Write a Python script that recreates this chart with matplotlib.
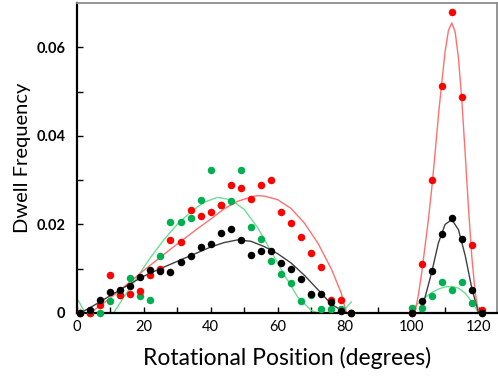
import numpy as np
import matplotlib
matplotlib.use("Agg")
import matplotlib.pyplot as plt

plt.rcParams['font.family'] = ['Lato', 'DejaVu Sans']

# ---- measured dwell frequencies (dots) ----
x_left = [1, 4, 7, 10, 13, 16, 19, 22, 25, 28, 31, 34, 37, 40, 43, 46, 49,
          52, 55, 58, 61, 64, 67, 70, 73, 76, 79, 82]
black_left = [0.0, 0.0006, 0.0030, 0.0048, 0.0052, 0.0062, 0.0081, 0.0096,
              0.0094, 0.0093, 0.0115, 0.0128, 0.0150, 0.0155, 0.0180, 0.0190,
              0.0164, 0.0132, 0.0141, 0.0141, 0.0114, 0.0100, 0.0077, 0.0042,
              0.0042, 0.0024, 0.0004, 0.0]
red_left = [0.0, 0.0, 0.0017, 0.0085, 0.0041, 0.0042, 0.0049, 0.0085,
            0.0100, 0.0165, 0.0160, 0.0233, 0.0220, 0.0227, 0.0245, 0.0289,
            0.0283, 0.0258, 0.0289, 0.0301, 0.0227, 0.0203, 0.0171, 0.0135,
            0.0103, 0.0030, 0.0030, 0.0]
green_left = [0.0, 0.0, 0.0, 0.0028, 0.0040, 0.0079, 0.0039, 0.0030,
              0.0128, 0.0205, 0.0205, 0.0215, 0.0255, 0.0323, 0.0245, 0.0254,
              0.0323, 0.0195, 0.0166, 0.0118, 0.0088, 0.0067, 0.0028, 0.0040,
              0.0010, 0.0010, 0.0010, 0.0]

x_right = [100, 103, 106, 109, 112, 115, 118, 121]
red_right = [0.0, 0.0111, 0.0301, 0.0513, 0.0679, 0.0487, 0.0154, 0.0007]
black_right = [0.0, 0.0028, 0.0094, 0.0179, 0.0215, 0.0167, 0.0051, 0.0]
green_right = [0.0012, 0.0012, 0.0039, 0.0071, 0.0051, 0.0071, 0.0023, 0.0]

# ---- fitted curves ----
red_fit_left_x = [4, 8, 12, 16, 20, 24, 28, 32, 36, 40, 44, 48, 52, 54, 56,
                  60, 64, 68, 72, 76, 79, 80.5]
red_fit_left_y = [0.0, 0.0022, 0.0046, 0.0071, 0.0096, 0.0120, 0.0144,
                  0.0167, 0.0190, 0.0212, 0.0235, 0.0252, 0.0262, 0.0265,
                  0.0264, 0.0256, 0.0236, 0.0203, 0.0158, 0.0100, 0.0045, 0.0]
green_fit_left_x = [0.5, 2.5, 5, 8, 11, 14, 18, 22, 26, 30, 34, 38, 42, 46,
                    50, 54, 58, 62, 66, 70, 72, 76, 79, 82]
green_fit_left_y = [0.0028, 0.0, -0.003, -0.003, 0.0, 0.0035, 0.0080, 0.0125,
                    0.0165, 0.0200, 0.0228, 0.0250, 0.0261, 0.0256, 0.0234,
                    0.0193, 0.0140, 0.0086, 0.0036, 0.0006, 0.0, -0.002,
                    0.0, 0.0025]
black_fit_left_x = [1, 4, 8, 12, 16, 20, 24, 28, 32, 36, 40, 44, 48, 52, 56,
                    60, 64, 68, 72, 76, 80, 81]
black_fit_left_y = [0.0, 0.0012, 0.0030, 0.0048, 0.0066, 0.0083, 0.0097,
                    0.0110, 0.0123, 0.0136, 0.0149, 0.0159, 0.0165, 0.0162,
                    0.0150, 0.0134, 0.0113, 0.0085, 0.0053, 0.0020, 0.0002, 0.0]

red_fit_right_x = [101, 102, 103, 104, 105, 106, 107, 108, 109, 110, 111, 112,
                   113, 114, 115, 116, 117, 118, 119, 120]
red_fit_right_y = [0.0, 0.0040, 0.0090, 0.0150, 0.0210, 0.0280, 0.0360,
                   0.0445, 0.0520, 0.0590, 0.0638, 0.0655, 0.0635, 0.0575,
                   0.0480, 0.0360, 0.0235, 0.0125, 0.0045, 0.0]
black_fit_right_x = [102.5, 104, 106, 108, 110, 112, 114, 116, 118, 120]
black_fit_right_y = [0.0, 0.0035, 0.0092, 0.0158, 0.0200, 0.0211, 0.0188,
                     0.0130, 0.0055, 0.0]
green_fit_right_x = [100, 102, 104, 106, 108, 110, 112, 114, 116, 118, 120]
green_fit_right_y = [0.0008, 0.0022, 0.0035, 0.0046, 0.0054, 0.0059, 0.0060,
                     0.0056, 0.0045, 0.0025, 0.0]

x_ticks = [0, 20, 40, 60, 80, 100, 120]
y_ticks = [0, 0.02, 0.04, 0.06]
y_ticklabels = ['0', '0.02', '0.04', '0.06']

W, H = 498, 380
fig = plt.figure(figsize=(W / 100, H / 100), dpi=100)
ax = fig.add_axes([76.7 / W, 1 - 313 / H, (497 - 76.7) / W, (313 - 3) / H])

fits = [
    (green_fit_left_x, green_fit_left_y, green_fit_right_x, green_fit_right_y, '#6fdc96'),
    (red_fit_left_x, red_fit_left_y, red_fit_right_x, red_fit_right_y, '#ff7070'),
    (black_fit_left_x, black_fit_left_y, black_fit_right_x, black_fit_right_y, '#404040'),
]
for xl, yl, xr, yr, lc in fits:
    ax.plot(xl, yl, color=lc, lw=1.0, zorder=2)
    ax.plot(xr, yr, color=lc, lw=1.0, zorder=2)

dots = [
    (green_left, green_right, '#00b050'),
    (red_left, red_right, '#ff0000'),
    (black_left, black_right, '#000000'),
]
for yl, yr, mc in dots:
    ax.plot(x_left + x_right, yl + yr, 'o', color=mc, ms=5.4, mew=0,
            clip_on=False, zorder=3)

ax.set_xlim(0, 125.5)
ax.set_ylim(0, 0.07)
ax.set_xticks(x_ticks)
ax.set_xticks(np.arange(10, 126, 20), minor=True)
ax.set_yticks(y_ticks)
ax.set_yticklabels(y_ticklabels, fontweight='bold')
ax.set_yticks([0.01, 0.03, 0.05], minor=True)
ax.tick_params(which='both', direction='in', length=4, width=1, colors='black',
               labelsize=10.5)
ax.tick_params(axis='y', pad=8)
ax.tick_params(axis='x', pad=5)

for s in ('left', 'bottom'):
    ax.spines[s].set_linewidth(1.6)
    ax.spines[s].set_color('black')
for s in ('top', 'right'):
    ax.spines[s].set_linewidth(1.3)
    ax.spines[s].set_color('#8c8c8c')

ax.set_xlabel('Rotational Position (degrees)', fontsize=16.5, labelpad=9)
ax.set_ylabel('Dwell Frequency', fontsize=14.5, labelpad=4)

fig.savefig('out.png', dpi=100)
